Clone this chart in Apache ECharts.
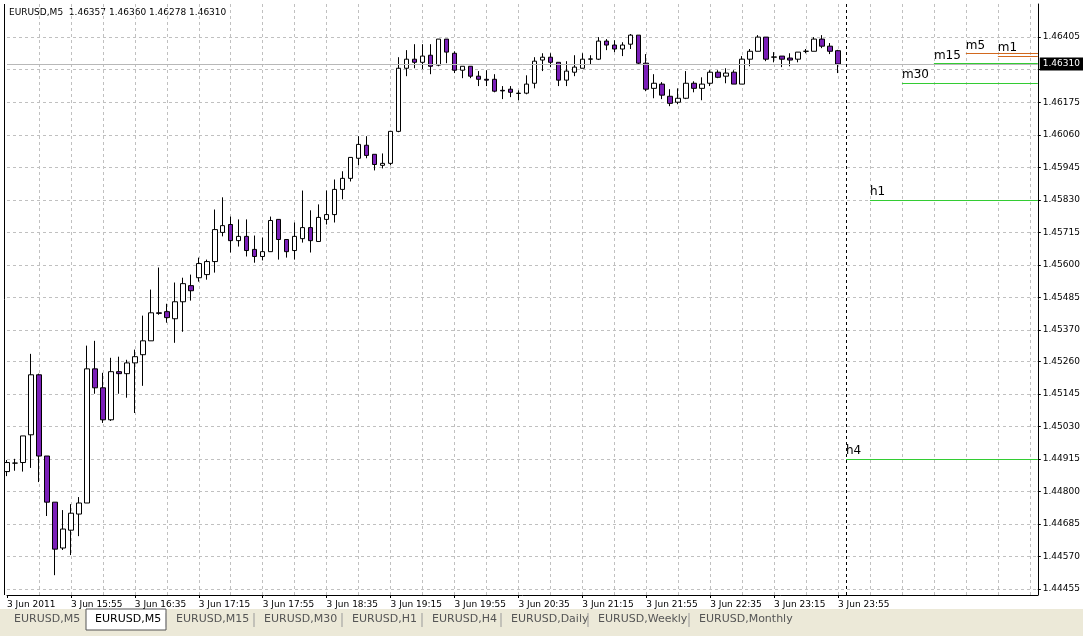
<!DOCTYPE html>
<html>
<head>
<meta charset="utf-8">
<script src="https://cdn.jsdelivr.net/npm/echarts@6/dist/echarts.min.js"></script>
<style>
  html, body { margin: 0; padding: 0; background: #fff; }
  #chart { width: 1083px; height: 636px; }
</style>
</head>
<body>
<div id="chart"></div>
<script>
// EURUSD M5, 3 Jun 2011 15:15 .. 23:55
const opens = [1.44870,1.44900,1.44902,1.45000,1.45212,1.44925,1.44762,1.44600,1.44663,1.44720,
  1.44759,1.45233,1.45166,1.45053,1.45223,1.45216,1.45254,1.45283,1.45332,1.45431,
  1.45435,1.45410,1.45470,1.45527,1.45555,1.45566,1.45612,1.45715,1.45743,1.45686,
  1.45701,1.45655,1.45630,1.45647,1.45761,1.45690,1.45651,1.45693,1.45732,1.45683,
  1.45761,1.45778,1.45867,1.45906,1.45977,1.46023,1.45991,1.45952,1.45959,1.46072,
  1.46295,1.46327,1.46316,1.46341,1.46306,1.46398,1.46348,1.46288,1.46302,1.46267,
  1.46256,1.46256,1.46217,1.46221,1.46207,1.46207,1.46242,1.46324,1.46334,1.46316,
  1.46253,1.46281,1.46295,1.46327,1.46327,1.46391,1.46377,1.46363,1.46380,1.46412,
  1.46313,1.46224,1.46239,1.46196,1.46175,1.46189,1.46242,1.46224,1.46242,1.46281,
  1.46267,1.46281,1.46239,1.46327,1.46355,1.46405,1.46334,1.46338,1.46331,1.46327,
  1.46355,1.46355,1.46398,1.46373,1.46357];
const closes = [1.44902,1.44900,1.44996,1.45212,1.44925,1.44762,1.44596,1.44667,1.44723,1.44759,
  1.45233,1.45166,1.45053,1.45223,1.45216,1.45254,1.45276,1.45332,1.45431,1.45429,
  1.45414,1.45470,1.45534,1.45509,1.45605,1.45612,1.45725,1.45739,1.45686,1.45701,
  1.45651,1.45630,1.45647,1.45757,1.45690,1.45647,1.45701,1.45732,1.45686,1.45768,
  1.45778,1.45867,1.45906,1.45980,1.46026,1.45987,1.45955,1.45959,1.46072,1.46295,
  1.46327,1.46316,1.46338,1.46302,1.46398,1.46352,1.46288,1.46302,1.46267,1.46256,
  1.46253,1.46214,1.46215,1.46210,1.46206,1.46239,1.46320,1.46334,1.46316,1.46253,
  1.46285,1.46299,1.46327,1.46328,1.46391,1.46377,1.46363,1.46377,1.46412,1.46313,
  1.46221,1.46242,1.46200,1.46171,1.46189,1.46242,1.46224,1.46239,1.46281,1.46263,
  1.46278,1.46239,1.46327,1.46355,1.46405,1.46327,1.46335,1.46327,1.46324,1.46352,
  1.46355,1.46398,1.46373,1.46355,1.46310];
const highs = [1.44911,1.44915,1.44996,1.45286,1.45216,1.44925,1.44762,1.44734,1.44755,1.44780,
  1.45315,1.45332,1.45219,1.45272,1.45276,1.45265,1.45301,1.45421,1.45513,1.45591,
  1.45463,1.45538,1.45555,1.45566,1.45626,1.45619,1.45796,1.45839,1.45771,1.45761,
  1.45761,1.45704,1.45697,1.45771,1.45761,1.45690,1.45750,1.45863,1.45793,1.45814,
  1.45863,1.45902,1.45931,1.45980,1.46055,1.46055,1.45991,1.45994,1.46072,1.46334,
  1.46359,1.46380,1.46380,1.46380,1.46398,1.46398,1.46355,1.46302,1.46302,1.46285,
  1.46288,1.46274,1.46232,1.46232,1.46217,1.46270,1.46334,1.46348,1.46348,1.46316,
  1.46320,1.46341,1.46348,1.46341,1.46405,1.46398,1.46394,1.46387,1.46416,1.46412,
  1.46345,1.46274,1.46246,1.46221,1.46224,1.46285,1.46249,1.46263,1.46288,1.46288,
  1.46295,1.46288,1.46338,1.46363,1.46412,1.46405,1.46352,1.46338,1.46348,1.46352,
  1.46363,1.46405,1.46412,1.46384,1.46360];
const lows = [1.44854,1.44873,1.44870,1.44883,1.44833,1.44713,1.44504,1.44593,1.44575,1.44642,
  1.44759,1.45145,1.45042,1.45049,1.45145,1.45131,1.45077,1.45173,1.45332,1.45424,
  1.45396,1.45325,1.45364,1.45474,1.45541,1.45548,1.45573,1.45701,1.45644,1.45665,
  1.45630,1.45608,1.45616,1.45647,1.45619,1.45626,1.45619,1.45679,1.45644,1.45683,
  1.45743,1.45750,1.45832,1.45895,1.45952,1.45977,1.45934,1.45941,1.45952,1.46069,
  1.46267,1.46295,1.46292,1.46274,1.46302,1.46313,1.46278,1.46260,1.46260,1.46232,
  1.46232,1.46210,1.46186,1.46193,1.46182,1.46203,1.46224,1.46285,1.46299,1.46232,
  1.46232,1.46267,1.46295,1.46309,1.46324,1.46359,1.46352,1.46338,1.46363,1.46309,
  1.46214,1.46189,1.46186,1.46161,1.46168,1.46186,1.46210,1.46182,1.46232,1.46260,
  1.46242,1.46239,1.46239,1.46302,1.46355,1.46320,1.46316,1.46299,1.46302,1.46316,
  1.46348,1.46355,1.46366,1.46345,1.46278];

const priceTicks = [1.46405,1.46290,1.46175,1.46060,1.45945,1.45830,1.45715,1.45600,1.45485,
  1.45370,1.45260,1.45145,1.45030,1.44915,1.44800,1.44685,1.44570,1.44455];
const timeLabels = ['3 Jun 2011','3 Jun 15:55','3 Jun 16:35','3 Jun 17:15','3 Jun 17:55','3 Jun 18:35',
  '3 Jun 19:15','3 Jun 19:55','3 Jun 20:35','3 Jun 21:15','3 Jun 21:55','3 Jun 22:35','3 Jun 23:15','3 Jun 23:55'];

// period levels drawn to the right of the last bar
const levelNames = ['h4','h1','m30','m15','m5','m1',''];
const levelValues = [1.44915,1.45830,1.46242,1.46312,1.46347,1.46339,1.46347];
const levelStart = [105,108,112,116,120,124,124];
const levelColors = ['#33cc33','#33cc33','#33cc33','#33cc33','#d2691e','#d2691e','#d2691e'];

const lastPrice = 1.46310;
const slots = 130;
const tabs = ['EURUSD,M5','EURUSD,M5','EURUSD,M15','EURUSD,M30','EURUSD,H1','EURUSD,H4','EURUSD,Daily','EURUSD,Weekly','EURUSD,Monthly'];
const tabX = [14,95,176,264,352,432,511,598,699];

const FONT = 'DejaVu Sans';
const candles = opens.map((o, i) => [o, closes[i], lows[i], highs[i]]);
const cats = Array.from({ length: slots }, (_, i) => String(i));

function hline(from, value, color, name, label) {
  return {
    type: 'line',
    data: [],
    silent: true,
    z: 3,
    markLine: {
      symbol: 'none',
      silent: true,
      animation: false,
      lineStyle: { color: color, width: 1, type: 'solid' },
      label: label || { show: !!name, position: 'insideStartTop', formatter: name, color: '#000', fontSize: 12, fontFamily: FONT, distance: [0, 2] },
      data: [[{ coord: [from, value] }, { coord: [slots - 1, value] }]]
    }
  };
}

const levelSeries = levelValues.map((v, i) => hline(levelStart[i], v, levelColors[i], levelNames[i]));
const priceSeries = hline(0, lastPrice, '#b8b8b8', '', {
  show: true, position: 'end', formatter: lastPrice.toFixed(5), color: '#fff',
  backgroundColor: '#000', padding: [2, 3], fontSize: 9, fontFamily: FONT, distance: 2
});
priceSeries.z = 1;

const chart = echarts.init(document.getElementById('chart'));

const tabGraphics = [
  { type: 'rect', shape: { x: 0, y: 609, width: 1083, height: 27 }, style: { fill: '#ece9d8' }, silent: true },
  { type: 'rect', shape: { x: 86, y: 609, width: 80, height: 21 }, style: { fill: '#fff', stroke: '#555' }, silent: true }
];
tabs.forEach((t, i) => {
  tabGraphics.push({ type: 'text', x: tabX[i], y: 614, style: { text: t, font: '11px ' + FONT, fill: i === 1 ? '#000' : '#555' }, silent: true });
  if (i > 1) tabGraphics.push({ type: 'line', shape: { x1: tabX[i] - 10, y1: 613, x2: tabX[i] - 10, y2: 627 }, style: { stroke: '#999' }, silent: true });
});

chart.setOption({
  animation: false,
  backgroundColor: '#fff',
  grid: { left: 7, right: 44, top: 4, bottom: 41 },
  xAxis: {
    type: 'category',
    data: cats,
    boundaryGap: false,
    axisLine: { show: true, lineStyle: { color: '#000' } },
    axisTick: { show: true, interval: (i) => i % 8 === 0 && i / 8 < timeLabels.length, length: 3, lineStyle: { color: '#000' } },
    axisLabel: {
      interval: (i) => i % 8 === 0 && i / 8 < timeLabels.length,
      formatter: (v, i) => timeLabels[i / 8] || '',
      align: 'left', margin: 5, color: '#000', fontSize: 9, fontFamily: FONT
    },
    splitLine: { show: true, interval: (i) => i % 4 === 0 && i > 0, lineStyle: { color: '#c0c0c0', type: [3, 3] } }
  },
  yAxis: {
    type: 'value',
    position: 'right',
    min: 1.44434,
    max: 1.46522,
    axisLine: { show: true, lineStyle: { color: '#000' } },
    axisTick: { show: true, customValues: priceTicks, length: 3, lineStyle: { color: '#000' } },
    axisLabel: {
      customValues: priceTicks,
      formatter: (v) => (Math.abs(v - 1.46290) < 1e-7 ? '' : v.toFixed(5)),
      margin: 5, color: '#000', fontSize: 9, fontFamily: FONT
    },
    splitLine: { show: true, lineStyle: { color: '#c0c0c0', type: [3, 3] } }
  },
  graphic: [
    { type: 'text', x: 9, y: 8, style: { text: 'EURUSD,M5  1.46357 1.46360 1.46278 1.46310', font: '9px ' + FONT, fill: '#000' } },
    { type: 'line', shape: { x1: 4.5, y1: 4, x2: 4.5, y2: 595 }, style: { stroke: '#000' } }
  ].concat(tabGraphics),
  series: [priceSeries, {
    type: 'candlestick',
    data: candles,
    barWidth: 5,
    clip: false,
    z: 2,
    itemStyle: {
      color: '#ffffff', color0: '#7b1fb8',
      borderColor: '#000', borderColor0: '#000', borderColorDoji: '#000', borderWidth: 1
    },
    markLine: {
      symbol: 'none',
      silent: true,
      animation: false,
      lineStyle: { color: '#000', width: 1, type: [3, 3] },
      label: { show: false },
      data: [{ xAxis: 105 }]
    }
  }].concat(levelSeries)
});
</script>
</body>
</html>
